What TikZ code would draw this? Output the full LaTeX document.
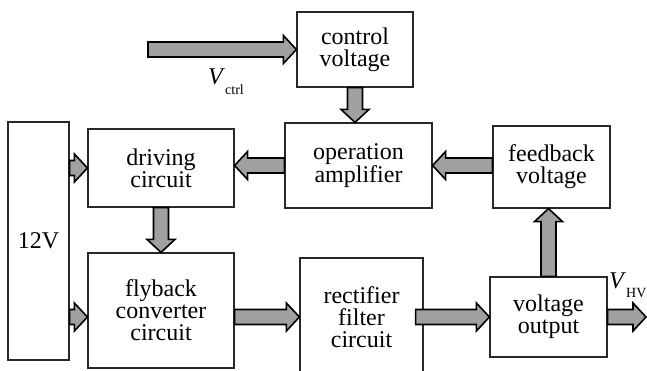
\documentclass[tikz,border=0pt]{standalone}
\usepackage{fontspec}
\setmainfont{Liberation Serif}
\usepackage{tikz}
\usetikzlibrary{calc, positioning}
\definecolor{arrowfill}{RGB}{160,160,160}
\definecolor{edge}{RGB}{40,40,40}
\tikzset{
  block/.style={draw=edge, line width=1.2pt, align=center, inner sep=0pt},
  fat/.style={draw=black, fill=arrowfill, line width=1.6pt, line join=miter},
}
% fat block arrow from #1 to #2
\newcommand{\fatarrow}[2]{%
  \draw[fat] let \p1=(#1), \p2=(#2),
        \n1={veclen(\x2-\x1,\y2-\y1)}, \n2={atan2(\y2-\y1,\x2-\x1)} in
        [shift={(\p1)}, rotate=\n2]
        (0,-7.5) -- ({\n1-13},-7.5) -- ({\n1-13},-14) -- ({\n1},0)
        -- ({\n1-13},14) -- ({\n1-13},7.5) -- (0,7.5) -- cycle;
}

\begin{document}
\begin{tikzpicture}[x=1pt, y=-1pt, font=\fontsize{24}{22}\selectfont]
  \useasboundingbox (0,0) rectangle (647,371);

  % ---------- blocks ----------
  \node[block, minimum width=116pt, minimum height=75pt]  (ctrl)    at (355,49.5)   {control\\voltage};
  \node[block, minimum width=61pt,  minimum height=238pt] (vsrc)    at (38.5,241)   {12V};
  \node[block, minimum width=146pt, minimum height=78pt]  (drive)   at (161,168)    {driving\\circuit};
  \node[block, minimum width=147pt, minimum height=85pt]  (opamp)   at (358.5,165.5){operation\\amplifier};
  \node[block, minimum width=117pt, minimum height=82pt]  (fback)   at (551.5,167)  {feedback\\voltage};
  \node[block, minimum width=146pt, minimum height=115pt] (flyback) at (161,310.5)  {flyback\\converter\\circuit};
  \node[block, minimum width=123pt, minimum height=118pt] (rect)    at (361.5,317)  {rectifier\\filter\\circuit};
  \node[block, minimum width=117pt, minimum height=80pt]  (vout)    at (548.5,317)  {voltage\\output};

  % ---------- free ends ----------
  \coordinate (vin)  at (148,49.5);
  \coordinate (vhv)  at (646,317);

  % ---------- labels ----------
  \node[anchor=base west, inner sep=0pt] (lctrl) at (208,85)
      {\textit{V}\raisebox{-10pt}{\fontsize{14}{14}\selectfont ctrl}};
  \node[anchor=base west, inner sep=0pt] (lhv) at (609,288)
      {\textit{V}\raisebox{-9pt}{\fontsize{14}{14}\selectfont HV}};

  % ---------- arrows ----------
  \fatarrow{vin}{ctrl.west}
  \fatarrow{ctrl.south}{ctrl.south |- opamp.north}
  \fatarrow{opamp.west}{drive.east |- opamp.west}
  \fatarrow{fback.west |- opamp.east}{opamp.east}
  \fatarrow{vsrc.east |- drive.west}{drive.west}
  \fatarrow{drive.south}{flyback.north}
  \fatarrow{vsrc.east |- vout.west}{flyback.west |- vout.west}
  \fatarrow{flyback.east |- vout.west}{rect.west |- vout.west}
  \fatarrow{$(rect.east)+(-8,0)$}{vout.west}
  \fatarrow{vout.north}{vout.north |- fback.south}
  \fatarrow{vout.east}{vhv}

\end{tikzpicture}
\end{document}
